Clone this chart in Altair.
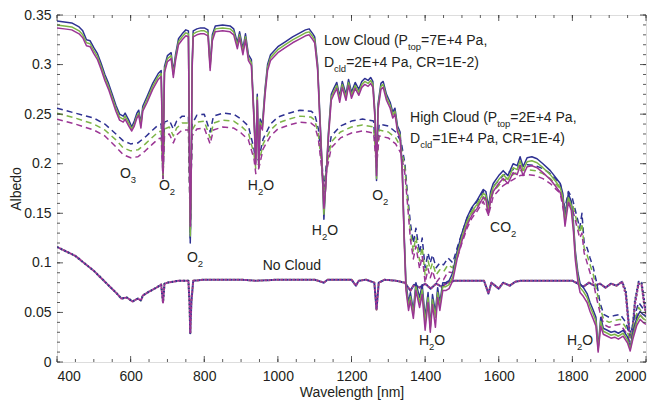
import altair as alt
import pandas as pd

NAVY = "#2E3192"
GREEN = "#7DB546"
PURPLE = "#9B3594"

# ---------------- Low cloud (solid) ----------------
low_wl = [400, 420, 440, 460, 470, 480, 490, 500, 510, 520, 530, 540, 550, 560, 570, 580, 585, 595, 603, 610,
          617, 622, 628, 633, 645, 660, 675, 683, 688, 692, 700, 710, 716, 722, 730, 740, 750, 757, 760, 762,
          764, 767, 770, 780, 790, 800, 810, 816, 822, 830, 850, 870, 880, 890, 896, 905, 912, 920, 928, 935,
          940, 944, 948, 952, 958, 965, 972, 980, 1000, 1020, 1040, 1060, 1075, 1085, 1095, 1100, 1108, 1114, 1120, 1125,
          1130, 1137, 1145, 1152, 1160, 1168, 1175, 1185, 1192, 1200, 1210, 1220, 1228, 1236, 1245, 1252, 1258, 1264, 1268, 1272,
          1280, 1286, 1295, 1305, 1312, 1318, 1325, 1332, 1338, 1343, 1348, 1355, 1360, 1368, 1375, 1385, 1392, 1400, 1408, 1414,
          1420, 1428, 1434, 1440, 1448, 1456, 1465, 1475, 1487, 1500, 1514, 1527, 1541, 1558, 1565, 1572, 1578, 1585, 1600, 1612,
          1625, 1639, 1650, 1658, 1666, 1677, 1690, 1704, 1720, 1740, 1755, 1767, 1774, 1780, 1789, 1797, 1803, 1808, 1815, 1821,
          1830, 1840, 1848, 1857, 1864, 1870, 1877, 1884, 1895, 1905, 1915, 1925, 1938, 1950, 1957, 1965, 1975, 1984, 1992, 2000]
low_navy = [.344, .343, .342, .338, .334, .325, .324, .317, .311, .301, .290, .281, .270, .259, .250, .248, .251, .244, .237, .243,
            .251, .254, .241, .258, .268, .281, .291, .294, .200, .298, .309, .312, .293, .310, .326, .331, .335, .334, .200, .120,
            .160, .300, .334, .336, .337, .337, .335, .300, .330, .339, .340, .339, .336, .322, .333, .316, .331, .310, .305, .250,
            .205, .270, .200, .245, .240, .275, .300, .310, .318, .323, .328, .332, .335, .336, .331, .328, .300, .250, .200, .144,
            .180, .230, .270, .276, .282, .268, .283, .270, .285, .272, .282, .275, .283, .286, .284, .287, .283, .250, .183, .260,
            .281, .283, .270, .262, .252, .256, .238, .232, .195, .130, .080, .060, .070, .052, .080, .065, .078, .045, .070, .035,
            .068, .050, .075, .060, .080, .080, .082, .090, .112, .130, .146, .156, .163, .174, .172, .156, .172, .180, .188, .193,
            .188, .200, .198, .207, .197, .206, .207, .205, .200, .193, .186, .180, .170, .145, .170, .162, .140, .112, .090, .079,
            .075, .069, .060, .052, .045, .014, .045, .034, .032, .030, .031, .029, .032, .025, .015, .030, .045, .051, .048, .046]
low_green = [.340, .339, .338, .334, .330, .322, .321, .314, .308, .298, .287, .278, .267, .256, .247, .245, .248, .241, .235, .240,
             .248, .251, .239, .255, .265, .278, .288, .291, .195, .295, .306, .309, .290, .307, .323, .328, .332, .331, .200, .127,
             .165, .297, .331, .333, .334, .334, .332, .297, .327, .336, .337, .336, .333, .319, .330, .313, .328, .307, .302, .247,
             .202, .267, .198, .242, .237, .272, .297, .307, .315, .320, .325, .329, .332, .333, .328, .325, .297, .247, .198, .149,
             .178, .227, .267, .273, .279, .265, .280, .267, .282, .269, .279, .272, .280, .283, .281, .284, .280, .247, .185, .257,
             .278, .280, .267, .259, .249, .253, .235, .229, .192, .127, .076, .056, .066, .048, .076, .060, .073, .040, .065, .033,
             .063, .045, .070, .056, .076, .076, .078, .086, .108, .126, .142, .152, .159, .170, .168, .152, .168, .176, .184, .189,
             .184, .196, .194, .203, .193, .202, .203, .201, .196, .189, .182, .176, .166, .141, .166, .158, .136, .108, .086, .075,
             .071, .065, .056, .048, .041, .012, .041, .031, .029, .027, .028, .026, .029, .022, .013, .027, .041, .047, .044, .042]
low_purple = [.337, .336, .335, .331, .327, .319, .318, .311, .305, .295, .284, .275, .264, .253, .244, .242, .245, .238, .233, .238,
              .246, .249, .236, .253, .262, .275, .285, .288, .190, .292, .303, .306, .287, .304, .320, .325, .329, .328, .200, .137,
              .170, .294, .328, .330, .331, .331, .329, .294, .324, .333, .334, .333, .330, .316, .327, .310, .325, .304, .299, .244,
              .199, .264, .196, .239, .234, .269, .294, .304, .312, .317, .322, .326, .329, .330, .325, .322, .294, .244, .196, .155,
              .176, .224, .264, .270, .276, .262, .277, .264, .279, .266, .276, .269, .277, .280, .278, .281, .277, .244, .188, .254,
              .275, .277, .264, .256, .246, .250, .232, .226, .189, .124, .072, .052, .062, .044, .072, .055, .068, .032, .060, .030,
              .058, .035, .065, .052, .072, .072, .074, .082, .104, .122, .138, .148, .155, .166, .164, .148, .164, .172, .180, .185,
              .180, .191, .189, .198, .188, .197, .198, .196, .191, .184, .177, .171, .161, .137, .161, .153, .131, .103, .081, .070,
              .066, .060, .051, .043, .036, .010, .036, .028, .026, .024, .025, .023, .026, .019, .011, .024, .037, .043, .040, .038]

# ---------------- High cloud (dashed) ----------------
high_wl = [400, 450, 500, 530, 560, 580, 600, 620, 640, 660, 675, 683, 688, 692, 705, 716, 725, 740, 757, 760,
           762, 764, 767, 780, 800, 816, 825, 850, 880, 900, 920, 935, 940, 948, 960, 980, 1000, 1030, 1060, 1090,
           1100, 1110, 1120, 1125, 1132, 1145, 1170, 1200, 1230, 1260, 1268, 1275, 1300, 1320, 1335, 1345, 1352, 1360, 1368, 1375,
           1385, 1392, 1400, 1408, 1414, 1420, 1430, 1440, 1450, 1462, 1475, 1487, 1500, 1514, 1527, 1541, 1558, 1572, 1585, 1612,
           1639, 1658, 1677, 1700, 1720, 1740, 1767, 1780, 1789, 1800, 1810, 1820, 1826, 1832, 1840, 1848, 1857, 1866, 1875, 1885,
           1900, 1915, 1930, 1945, 1957, 1968, 1980, 1990, 2000]
high_navy = [.256, .251, .246, .240, .230, .223, .220, .221, .227, .234, .239, .240, .185, .242, .244, .235, .243, .248, .248, .180,
             .125, .180, .240, .249, .250, .232, .248, .251, .250, .245, .238, .215, .200, .205, .225, .240, .247, .251, .254, .253,
             .250, .235, .200, .175, .200, .228, .238, .243, .245, .243, .200, .240, .238, .232, .222, .200, .170, .140, .120, .135,
             .110, .125, .095, .110, .100, .108, .095, .100, .098, .105, .100, .115, .130, .145, .155, .162, .172, .158, .177, .188,
             .194, .198, .199, .198, .195, .190, .180, .155, .172, .165, .150, .135, .150, .120, .115, .105, .095, .080, .060, .048,
             .045, .047, .048, .040, .025, .045, .060, .055, .050]
high_green = [.251, .246, .240, .234, .224, .216, .213, .214, .220, .227, .232, .233, .185, .235, .237, .228, .236, .241, .241, .180,
              .130, .180, .234, .242, .243, .226, .241, .244, .243, .238, .231, .210, .195, .200, .220, .234, .241, .245, .248, .247,
              .244, .230, .196, .172, .196, .222, .232, .237, .239, .237, .198, .234, .232, .226, .216, .195, .165, .132, .112, .126,
              .102, .116, .088, .102, .093, .100, .088, .093, .091, .098, .095, .110, .125, .140, .150, .157, .167, .153, .172, .183,
              .189, .193, .194, .193, .190, .185, .175, .150, .167, .160, .145, .130, .140, .115, .108, .098, .088, .072, .055, .043,
              .040, .042, .043, .035, .022, .040, .055, .050, .045]
high_purple = [.245, .240, .234, .228, .217, .209, .206, .207, .213, .220, .225, .226, .185, .228, .230, .221, .229, .234, .234, .180,
               .135, .180, .228, .235, .236, .220, .234, .237, .236, .231, .224, .205, .190, .195, .215, .228, .235, .239, .242, .241,
               .238, .225, .192, .170, .192, .216, .226, .231, .233, .231, .196, .228, .226, .220, .210, .190, .160, .124, .104, .117,
               .094, .107, .080, .094, .085, .092, .080, .085, .083, .091, .090, .105, .120, .135, .145, .152, .162, .148, .167, .178,
               .184, .188, .189, .188, .185, .180, .170, .145, .162, .155, .140, .125, .130, .110, .100, .090, .080, .064, .050, .038,
               .035, .037, .038, .030, .020, .035, .050, .045, .040]

# ---------------- No cloud (dotted) ----------------
clear_wl = [400, 450, 500, 530, 560, 575, 590, 605, 620, 628, 633, 650, 670, 683, 688, 692, 700, 730, 757, 760,
            762, 765, 770, 800, 900, 940, 1000, 1100, 1125, 1135, 1200, 1212, 1220, 1240, 1262, 1268, 1274, 1290, 1320, 1345,
            1360, 1370, 1385, 1400, 1415, 1430, 1445, 1460, 1480, 1560, 1572, 1580, 1600, 1612, 1630, 1645, 1660, 1800, 1815, 1830,
            1845, 1860, 1875, 1890, 1905, 1920, 1935, 1945, 1955, 1962, 1970, 1980, 1988, 1995, 2000]
clear_navy = [.116, .107, .092, .081, .070, .064, .065, .061, .064, .062, .067, .071, .075, .078, .060, .079, .080, .082, .082, .060,
              .029, .060, .082, .083, .083, .082, .083, .083, .080, .083, .083, .077, .082, .083, .080, .053, .080, .083, .082, .080,
              .072, .078, .075, .079, .074, .079, .076, .080, .082, .082, .069, .080, .074, .080, .077, .081, .082, .082, .079, .076,
              .080, .077, .079, .075, .079, .077, .081, .072, .032, .028, .062, .081, .080, .062, .052]
clear_green = [.116, .107, .092, .081, .070, .064, .065, .061, .064, .062, .067, .071, .075, .078, .060, .079, .080, .082, .082, .060,
               .028, .060, .082, .083, .083, .082, .083, .083, .080, .083, .083, .077, .082, .083, .080, .053, .080, .083, .082, .080,
               .072, .078, .075, .079, .074, .079, .076, .080, .082, .082, .069, .080, .074, .080, .077, .081, .082, .082, .079, .076,
               .080, .077, .079, .075, .079, .077, .081, .070, .030, .026, .060, .080, .079, .060, .050]
clear_purple = [.116, .107, .092, .081, .070, .064, .065, .061, .064, .062, .067, .071, .075, .078, .060, .079, .080, .082, .082, .060,
                .029, .060, .082, .083, .083, .082, .083, .083, .080, .083, .083, .077, .082, .083, .080, .053, .080, .083, .082, .080,
                .072, .078, .075, .079, .074, .079, .076, .080, .082, .082, .069, .080, .074, .080, .077, .081, .082, .082, .079, .076,
                .080, .077, .079, .075, .079, .077, .081, .068, .028, .024, .058, .079, .078, .058, .048]

# ---------------- Axis ticks ----------------
x_major = [400, 600, 800, 1000, 1200, 1400, 1600, 1800, 2000]
x_minor = list(range(400, 2001, 50))
y_major = [0, 0.05, 0.1, 0.15, 0.2, 0.25, 0.3, 0.35]
y_minor = [i / 100 for i in range(0, 36)]

W, H = 589, 347
XD = [400, 2000]
YD = [0, 0.35]
FONT = "Liberation Sans"
TXT = "#231F20"

xs = alt.Scale(domain=XD, nice=False, zero=False)
ys = alt.Scale(domain=YD, nice=False, zero=False)
xaxis = alt.Axis(values=x_major, format="d", title="Wavelength [nm]", ticks=False, domain=False, grid=False,
                 labelFont=FONT, labelFontSize=14, labelColor=TXT, labelPadding=7,
                 titleFont=FONT, titleFontSize=14, titleFontWeight="normal", titleColor=TXT, titlePadding=2)
yaxis = alt.Axis(values=y_major, format="~g", title="Albedo", ticks=False, domain=False, grid=False,
                 labelFont=FONT, labelFontSize=14, labelColor=TXT, labelPadding=6,
                 titleFont=FONT, titleFontSize=14, titleFontWeight="normal", titleColor=TXT,
                 titleX=-41, titleY=H / 2, titleAngle=270, titleAlign="center", titleBaseline="middle")

X = lambda: alt.X("wl:Q", scale=xs, axis=xaxis)
Y = lambda: alt.Y("alb:Q", scale=ys, axis=yaxis)


def line(wl, vals, color, dash=None, width=1.5, offset=None):
    df = pd.DataFrame({"wl": wl, "alb": vals})
    kw = dict(color=color, strokeWidth=width, clip=True, strokeJoin="round")
    if dash is not None:
        kw["strokeDash"] = dash
    if offset is not None:
        kw["strokeDashOffset"] = offset
    return alt.Chart(df).mark_line(**kw).encode(x=X(), y=Y())


layers = []
# no cloud dotted
layers.append(line(clear_wl, clear_green, GREEN, dash=[2, 2], width=2))
layers.append(line(clear_wl, clear_navy, NAVY, dash=[2, 2], width=2))
layers.append(line(clear_wl, clear_purple, PURPLE, dash=[2.5, 1.5], width=2, offset=2))
# high cloud dashed
layers.append(line(high_wl, high_navy, NAVY, dash=[6, 4]))
layers.append(line(high_wl, high_green, GREEN, dash=[6, 4]))
layers.append(line(high_wl, high_purple, PURPLE, dash=[6, 4]))
# low cloud solid
layers.append(line(low_wl, low_navy, NAVY))
layers.append(line(low_wl, low_green, GREEN))
layers.append(line(low_wl, low_purple, PURPLE))


# inward ticks
def xticks(vals, length):
    df = pd.DataFrame({"wl": vals})
    b = alt.Chart(df).mark_rule(color="#333", strokeWidth=0.8)
    return [b.encode(x=X(), y=alt.value(H), y2=alt.value(H - length)),
            b.encode(x=X(), y=alt.value(0), y2=alt.value(length))]


def yticks(vals, length):
    df = pd.DataFrame({"alb": vals})
    b = alt.Chart(df).mark_rule(color="#333", strokeWidth=0.8)
    return [b.encode(y=Y(), x=alt.value(0), x2=alt.value(length)),
            b.encode(y=Y(), x=alt.value(W), x2=alt.value(W - length))]


layers += xticks(x_minor, 3) + xticks(x_major, 6) + yticks(y_minor, 3) + yticks(y_major, 6)

# ---------------- Annotations ----------------
CW = {' ': 278, '(': 333, ')': 333, '+': 584, ',': 278, '-': 333, '.': 278, '=': 584,
      'C': 722, 'D': 722, 'E': 667, 'H': 722, 'L': 556, 'N': 722, 'O': 778, 'P': 667, 'R': 722,
      'a': 556, 'c': 500, 'd': 556, 'g': 556, 'h': 556, 'i': 222, 'l': 222, 'o': 556, 'p': 556,
      't': 278, 'u': 556, 'w': 722}
MAIN, SUB = 14, 9.5
SUB_DROP = 6  # px


def tw(s, size):
    return sum(CW.get(c, 556) for c in s) * size / 1000.0


px_per_wl = W / (XD[1] - XD[0])
px_per_alb = H / (YD[1] - YD[0])

# (pieces, anchor wavelength, anchor albedo, anchor type)
annotations = [
    ([("O", 0), ("3", 1)], 593, 0.190, "center"),
    ([("O", 0), ("2", 1)], 699, 0.178, "center"),
    ([("O", 0), ("2", 1)], 775, 0.105, "center"),
    ([("H", 0), ("2", 1), ("O", 0)], 954, 0.178, "center"),
    ([("H", 0), ("2", 1), ("O", 0)], 1128, 0.132, "center"),
    ([("O", 0), ("2", 1)], 1278, 0.167, "center"),
    ([("No Cloud", 0)], 1038, 0.097, "center"),
    ([("H", 0), ("2", 1), ("O", 0)], 1419, 0.021, "center"),
    ([("CO", 0), ("2", 1)], 1612, 0.135, "center"),
    ([("H", 0), ("2", 1), ("O", 0)], 1821, 0.021, "center"),
    ([("Low Cloud (P", 0), ("top", 1), ("=7E+4 Pa,", 0)], 1125, 0.324, "left"),
    ([("D", 0), ("cld", 1), ("=2E+4 Pa, CR=1E-2)", 0)], 1125, 0.302, "left"),
    ([("High Cloud (P", 0), ("top", 1), ("=2E+4 Pa,", 0)], 1359, 0.246, "left"),
    ([("D", 0), ("cld", 1), ("=1E+4 Pa, CR=1E-4)", 0)], 1359, 0.225, "left"),
]

rows = []
for pieces, wl0, a0, anchor in annotations:
    total = sum(tw(t, SUB if s else MAIN) for t, s in pieces)
    px = 0.0 if anchor == "left" else -total / 2
    for t, s in pieces:
        size = SUB if s else MAIN
        rows.append({"text": t, "wl": wl0 + px / px_per_wl,
                     "alb": a0 - (SUB_DROP / px_per_alb if s else 0), "size": size})
        px += tw(t, size)
ann = pd.DataFrame(rows)
layers.append(alt.Chart(ann).mark_text(align="left", baseline="middle", font=FONT, color=TXT).encode(
    x=X(), y=Y(), text="text:N", size=alt.Size("size:Q", scale=None)))

chart = alt.layer(*layers).properties(
    width=W, height=H,
    padding={"left": 49, "top": 7, "right": 8, "bottom": 40},
    autosize=alt.AutoSizeParams(type="none"),
).configure_view(stroke="#333", strokeWidth=1).configure(background="white")

chart.save("out.html", embed_options={"renderer": "svg", "actions": False})
